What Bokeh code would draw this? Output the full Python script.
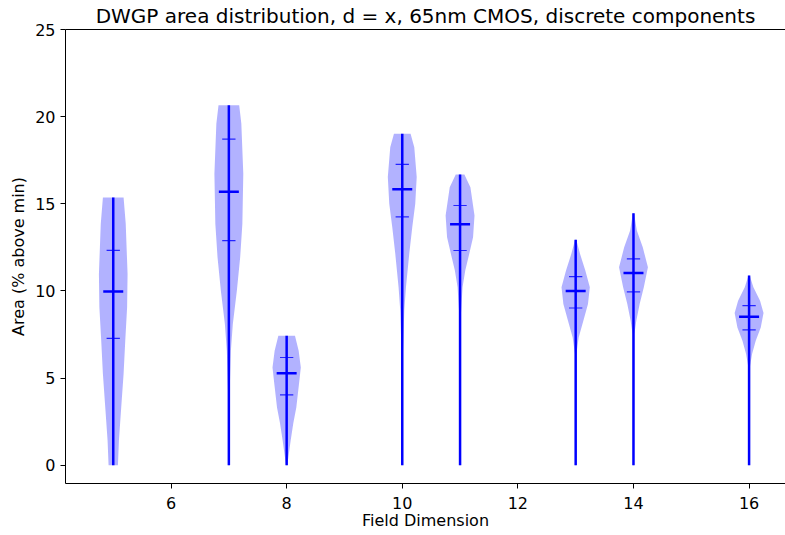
from bokeh.plotting import figure
from bokeh.models import Range1d, FixedTicker, LinearAxis
from bokeh.embed import file_html
from bokeh.resources import INLINE

# ---- data ----
positions = [5, 7, 8, 10, 11, 13, 14, 16]
maxima = [15.36, 20.65, 7.43, 19.02, 16.68, 12.93, 14.46, 10.88]
means = [9.96, 15.69, 5.27, 15.84, 13.83, 10.0, 11.03, 8.52]
q_low = [7.28, 12.89, 4.04, 14.25, 12.32, 9.02, 9.94, 7.76]
q_high = [12.33, 18.71, 6.18, 17.26, 14.9, 10.82, 11.84, 9.16]

# density profiles (level, half width in x units)
kde_y_5 = [0, 1.40, 3.31, 5.23, 7.14, 9.06, 10.97, 13.85, 15.36]
kde_w_5 = [0.081, 0.098, 0.138, 0.179, 0.208, 0.24, 0.248, 0.216, 0.179]
kde_y_7 = [0, 4.27, 6.57, 8.10, 10.02, 11.93, 13.85, 16.72, 19.6, 20.65]
kde_w_7 = [0.01, 0.015, 0.035, 0.069, 0.139, 0.196, 0.234, 0.25, 0.216, 0.179]
kde_y_8 = [0, 0.44, 1.40, 2.40, 3.31, 4.65, 5.60, 6.57, 7.43]
kde_w_8 = [0.01, 0.029, 0.069, 0.115, 0.167, 0.213, 0.245, 0.208, 0.144]
kde_y_10 = [0, 6.4, 8.87, 10.21, 12.13, 13.66, 15.0, 16.53, 18.25, 19.02]
kde_w_10 = [0.01, 0.012, 0.035, 0.064, 0.121, 0.173, 0.225, 0.25, 0.208, 0.144]
kde_y_11 = [0, 8.68, 10.21, 11.17, 12.13, 13.08, 14.33, 15.95, 16.68]
kde_w_11 = [0.01, 0.015, 0.043, 0.09, 0.159, 0.225, 0.25, 0.179, 0.075]
kde_y_13 = [0, 6.38, 7.33, 8.29, 9.25, 10.21, 11.17, 12.13, 12.93]
kde_w_13 = [0.01, 0.012, 0.052, 0.133, 0.213, 0.245, 0.167, 0.075, 0.01]
kde_y_14 = [0, 7.53, 8.29, 9.25, 10.21, 11.36, 12.5, 13.47, 14.46]
kde_w_14 = [0.01, 0.015, 0.049, 0.107, 0.179, 0.25, 0.161, 0.058, 0.01]
kde_y_16 = [0, 5.6, 6.38, 7.14, 7.9, 8.74, 9.44, 10.21, 10.88]
kde_w_16 = [0.01, 0.012, 0.052, 0.115, 0.202, 0.25, 0.19, 0.075, 0.01]

profiles = [
    (kde_y_5, kde_w_5), (kde_y_7, kde_w_7), (kde_y_8, kde_w_8),
    (kde_y_10, kde_w_10), (kde_y_11, kde_w_11), (kde_y_13, kde_w_13),
    (kde_y_14, kde_w_14), (kde_y_16, kde_w_16),
]

x_ticks = [6, 8, 10, 12, 14, 16]
y_ticks = [0, 5, 10, 15, 20, 25]

title_text = "DWGP area distribution, d = x, 65nm CMOS, discrete components"
x_label = "Field Dimension"
y_label = "Area (% above min)"

FONT = "DejaVu Sans"
BLUE = "#0000ff"

p = figure(width=785, height=535, output_backend="svg", toolbar_location=None,
           x_range=Range1d(4.174, 16.63), y_range=Range1d(-1.05, 25),
           min_border_left=65, min_border_right=0, min_border_top=29,
           min_border_bottom=52, title=title_text)

p.title.text_font = FONT
p.title.text_font_size = "20px"
p.title.text_font_style = "normal"
p.title.text_color = "black"
p.title.align = "center"
p.title.offset = 9
p.title.standoff = 3

p.outline_line_color = None
p.background_fill_color = "white"
p.border_fill_color = "white"
p.xgrid.visible = False
p.ygrid.visible = False

for ax, ticks, lab in ((p.xaxis[0], x_ticks, x_label), (p.yaxis[0], y_ticks, y_label)):
    ax.ticker = FixedTicker(ticks=ticks)
    ax.axis_label = lab
    ax.axis_label_text_font = FONT
    ax.axis_label_text_font_size = "16px"
    ax.axis_label_text_font_style = "normal"
    ax.axis_label_text_color = "black"
    ax.major_label_text_font = FONT
    ax.major_label_text_font_size = "16px"
    ax.major_label_text_color = "black"
    ax.axis_line_color = "black"
    ax.axis_line_width = 1
    ax.major_tick_line_color = "black"
    ax.major_tick_out = 5
    ax.major_tick_in = 0
    ax.minor_tick_line_color = None

p.xaxis[0].major_label_standoff = 8
p.xaxis[0].axis_label_standoff = -1
p.yaxis[0].major_label_standoff = 5
p.yaxis[0].axis_label_standoff = 4

# top spine as a bare axis
top = LinearAxis(ticker=FixedTicker(ticks=[]), axis_line_color="black",
                 axis_line_width=1, major_tick_line_color=None,
                 minor_tick_line_color=None, major_label_text_font_size="0px",
                 major_label_standoff=0, major_tick_out=0, major_tick_in=0)
p.add_layout(top, "above")

for pos, (ys, ws) in zip(positions, profiles):
    p.harea(y=ys, x1=[pos - w for w in ws], x2=[pos + w for w in ws],
            fill_color=BLUE, fill_alpha=0.3)

# vertical bars
p.segment(x0=positions, y0=[0] * len(positions), x1=positions, y1=maxima,
          line_color=BLUE, line_width=2.5)
# means
mh = 0.173
p.segment(x0=[x - mh for x in positions], y0=means, x1=[x + mh for x in positions],
          y1=means, line_color=BLUE, line_width=2.5)
# quantiles
qh = 0.115
p.segment(x0=[x - qh for x in positions], y0=q_low, x1=[x + qh for x in positions],
          y1=q_low, line_color=BLUE, line_width=1.2, line_alpha=0.8)
p.segment(x0=[x - qh for x in positions], y0=q_high, x1=[x + qh for x in positions],
          y1=q_high, line_color=BLUE, line_width=1.2, line_alpha=0.8)

open("out.html", "w").write(file_html(p, INLINE))
